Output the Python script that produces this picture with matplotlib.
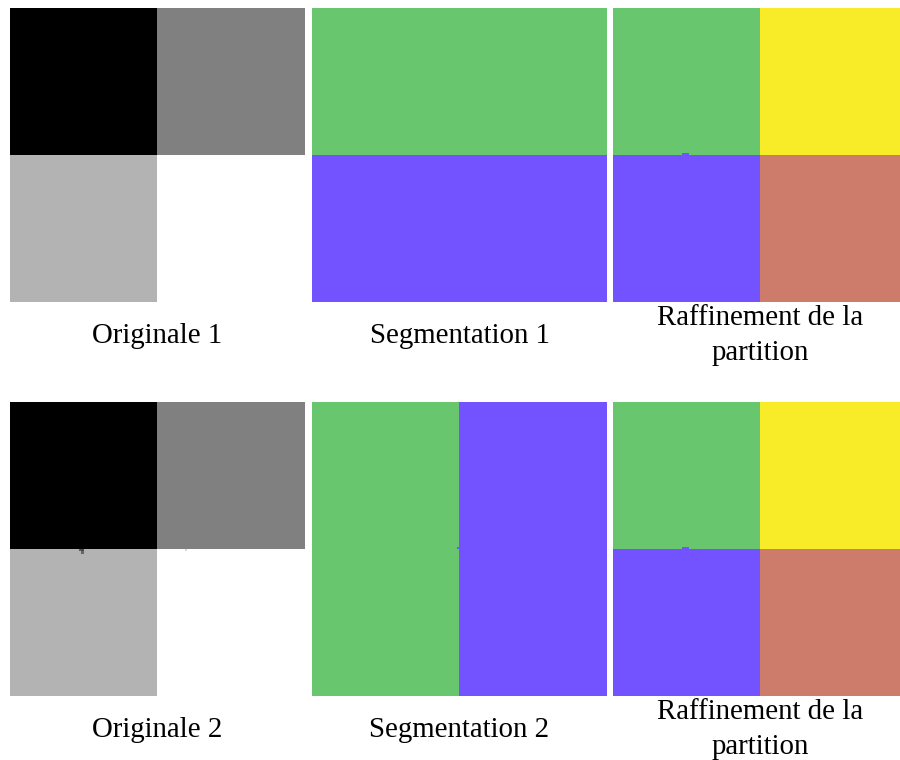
import numpy as np
from matplotlib import pyplot as plt
from matplotlib.colors import ListedColormap

plt.rcParams["font.family"] = ["Liberation Serif", "DejaVu Serif"]

# grey levels of the four quadrants (top-left, top-right / bottom-left, bottom-right)
original_1 = [[0.0, 0.5], [0.7, 1.0]]
original_2 = [[0.0, 0.5], [0.7, 1.0]]

# label maps: 0 green, 1 purple, 2 yellow, 3 salmon
segmentation_1 = [[0, 0], [1, 1]]
segmentation_2 = [[0, 1], [0, 1]]
refinement_1 = [[0, 2], [1, 3]]
refinement_2 = [[0, 2], [1, 3]]

label_colors = ["#68c76e", "#7352ff", "#f8eb28", "#cd7c6b"]

# small stray pixels seen along the boundaries (row, col, value) on a 120x120 grid
original_2_spots = [(60, 28, 0.35), (60, 29, 0.3), (61, 29, 0.4), (60, 71, 0.85)]
segmentation_2_spots = [(59, 59, 1)]
refinement_1_spots = [(59, 28, 1), (59, 29, 1), (59, 30, 1)]
refinement_2_spots = [(59, 28, 1), (59, 29, 1), (59, 30, 1)]

captions = [
    ["Originale 1", "Segmentation 1", "Raffinement de la\npartition"],
    ["Originale 2", "Segmentation 2", "Raffinement de la\npartition"],
]

GRID = 120


def to_image(quadrants, spots=()):
    img = np.kron(np.array(quadrants, dtype=float), np.ones((GRID // 2, GRID // 2)))
    for r, c, v in spots:
        img[r, c] = v
    return img


panels = [
    [(to_image(original_1), "gray"),
     (to_image(segmentation_1), "labels"),
     (to_image(refinement_1, refinement_1_spots), "labels")],
    [(to_image(original_2, original_2_spots), "gray"),
     (to_image(segmentation_2, segmentation_2_spots), "labels"),
     (to_image(refinement_2, refinement_2_spots), "labels")],
]

W, H = 900, 760
fig = plt.figure(figsize=(W / 100, H / 100), dpi=100)

lefts = [10, 312, 613]
tops = [8, 402]
size_w, size_h = 295, 294
label_cmap = ListedColormap(label_colors)

for i, top in enumerate(tops):
    for j, left in enumerate(lefts):
        img, kind = panels[i][j]
        ax = fig.add_axes([left / W, 1 - (top + size_h) / H, size_w / W, size_h / H])
        if kind == "gray":
            ax.imshow(img, cmap="gray", vmin=0, vmax=1, interpolation="nearest", aspect="auto")
        else:
            ax.imshow(img, cmap=label_cmap, vmin=-0.5, vmax=3.5, interpolation="nearest", aspect="auto")
        ax.axis("off")

        lines = captions[i][j].split("\n")
        first = top + size_h + (23 if len(lines) > 1 else 41)
        for k, line in enumerate(lines):
            baseline = first + 35 * k
            fig.text((left + size_w / 2) / W, 1 - baseline / H, line,
                     ha="center", va="baseline", fontsize=20.8)

fig.savefig("out.png", dpi=100)
